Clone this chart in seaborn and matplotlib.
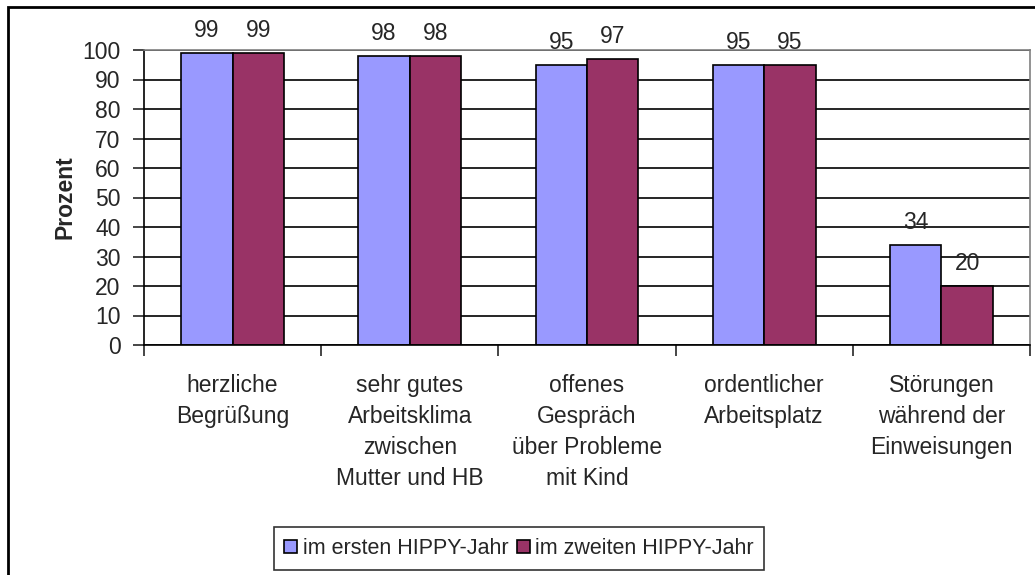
import matplotlib
matplotlib.use("Agg")
import matplotlib.pyplot as plt
import seaborn as sns
import pandas as pd
from matplotlib.patches import Patch, Rectangle

categories = ["herzliche\nBegrüßung",
              "sehr gutes\nArbeitsklima\nzwischen\nMutter und HB",
              "offenes\nGespräch\nüber Probleme\nmit Kind",
              "ordentlicher\nArbeitsplatz",
              "Störungen\nwährend der\nEinweisungen"]
series_names = ["im ersten HIPPY-Jahr", "im zweiten HIPPY-Jahr"]
first_year = [99, 98, 95, 95, 34]
second_year = [99, 98, 97, 95, 20]
yticks = [0, 10, 20, 30, 40, 50, 60, 70, 80, 90, 100]
colors = ["#9999FF", "#993366"]

df = pd.DataFrame({
    "Kategorie": categories * 2,
    "Jahr": [series_names[0]] * 5 + [series_names[1]] * 5,
    "Prozent": first_year + second_year,
})

sns.set_style("white")
plt.rcParams["font.family"] = ["Liberation Sans", "DejaVu Sans"]
FS = 16.5

fig = plt.figure(figsize=(10.35, 5.75), dpi=100)
ax = fig.add_axes([144/1035, 1-345/575, (1030-144)/1035, (345-50)/575])

sns.barplot(data=df, x="Kategorie", y="Prozent", hue="Jahr", palette=colors,
            width=0.58, edgecolor="black", linewidth=1.2, ax=ax, legend=False,
            saturation=1, errorbar=None)

for c in ax.containers:
    ax.bar_label(c, fmt="%d", padding=8, fontsize=FS)

ax.set_ylim(0, 100)
ax.set_xlim(-0.5, 4.5)
ax.set_yticks(yticks)
ax.yaxis.grid(True, color="black", linewidth=1.2)
ax.set_axisbelow(True)
ax.tick_params(axis="y", labelsize=FS, length=8, width=1.2, direction="out", left=True, pad=9)
ax.set_xticks(range(5))
ax.set_xticklabels(categories, fontsize=FS, linespacing=1.45, va="top")
ax.tick_params(axis="x", which="major", length=0, pad=21)
ax.set_xticks([i - 0.5 for i in range(6)], minor=True)
ax.tick_params(axis="x", which="minor", length=8, width=1.2, direction="out", bottom=True)
ax.set_xlabel("")
ax.set_ylabel("Prozent", fontsize=FS, fontweight="bold", labelpad=4)

for s in ["left", "bottom"]:
    ax.spines[s].set_color("black")
    ax.spines[s].set_linewidth(1.2)
for s in ["top", "right"]:
    ax.spines[s].set_color("#808080")
    ax.spines[s].set_linewidth(1.2)

handles = [Patch(facecolor=colors[i], edgecolor="black", linewidth=1.2, label=series_names[i]) for i in range(2)]
leg = fig.legend(handles=handles, loc="lower center", bbox_to_anchor=(519/1035, 1/575), ncol=2,
                 fontsize=15.5, frameon=True, fancybox=False, handlelength=0.6, handleheight=0.6,
                 handletextpad=0.25, columnspacing=0.4, borderpad=0.5, borderaxespad=0.2)
leg.get_frame().set_edgecolor("black")
leg.get_frame().set_linewidth(1.2)

fig.patches.append(Rectangle((8/1035, -0.05), 1.1, 1 - 7/575 + 0.05, transform=fig.transFigure,
                             fill=False, edgecolor="black", linewidth=2))

fig.savefig("out.png", dpi=100)
